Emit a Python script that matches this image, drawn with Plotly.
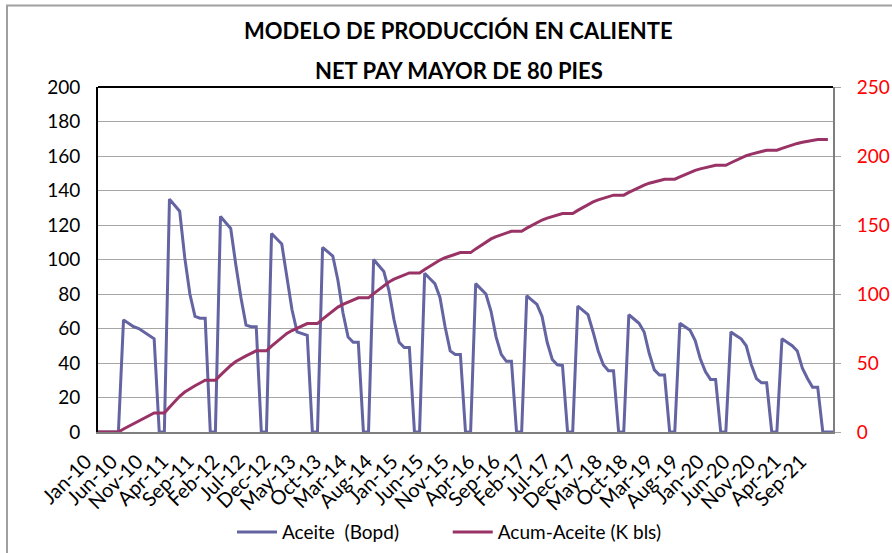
import pandas as pd
import plotly.graph_objects as go

# ---- data ----
months = [d.strftime("%b-%y") for d in pd.date_range("2010-01-01", periods=145, freq="MS")]
tick_labels = ["Jan-10", "Jun-10", "Nov-10", "Apr-11", "Sep-11", "Feb-12", "Jul-12", "Dec-12",
               "May-13", "Oct-13", "Mar-14", "Aug-14", "Jan-15", "Jun-15", "Nov-15", "Apr-16",
               "Sep-16", "Feb-17", "Jul-17", "Dec-17", "May-18", "Oct-18", "Mar-19", "Aug-19",
               "Jan-20", "Jun-20", "Nov-20", "Apr-21", "Sep-21"]

aceite_bopd = [
    0, 0, 0, 0, 0,
    65, 63, 61, 60, 58, 56, 54, 0, 0,
    135, 131.5, 128, 101, 80, 67, 66, 66, 0, 0,
    125, 121.5, 118, 97, 78, 62, 61, 61, 0, 0,
    115, 112, 109, 90, 71, 58, 57, 56, 0, 0,
    107, 104.5, 102, 88, 69, 55, 52, 52, 0, 0,
    100, 96.5, 93, 82, 65, 52, 49, 49, 0, 0,
    92, 89, 86, 78, 61, 47, 45, 45, 0, 0,
    86, 83, 80, 70, 55, 45, 41, 41, 0, 0,
    79, 76.5, 74, 67, 52, 42, 39, 38.5, 0, 0,
    73, 70.5, 68, 58, 47, 39, 35.5, 35.5, 0, 0,
    68, 65.5, 63, 58, 45.5, 36, 33, 33, 0, 0,
    63, 61, 59, 53, 42.5, 35, 30.5, 30.5, 0, 0,
    58, 56, 54, 50, 39, 31, 28.5, 28.5, 0, 0,
    54, 52, 50, 47, 37, 31, 26, 26, 0, 0,
    0,
]

acum_kbls = [
    0, 0, 0, 0, 0,
    2.2, 4.2, 6.3, 8.2, 10.2, 12.0, 13.8, 13.8, 13.8,
    17.9, 22.0, 25.9, 29.0, 31.4, 33.5, 35.5, 37.5, 37.5, 37.5,
    41.2, 44.8, 48.2, 51.1, 53.4, 55.2, 57.0, 58.8, 58.8, 58.8,
    62.2, 65.5, 68.8, 71.4, 73.5, 75.3, 76.9, 78.6, 78.6, 78.6,
    81.8, 84.9, 87.9, 90.5, 92.5, 94.1, 95.7, 97.2, 97.2, 97.2,
    100.3, 103.3, 106.1, 108.7, 110.7, 112.3, 113.8, 115.3, 115.3, 115.3,
    117.8, 120.2, 122.5, 124.6, 126.3, 127.6, 128.8, 130.0, 130.0, 130.0,
    132.7, 135.2, 137.7, 139.9, 141.6, 143.0, 144.2, 145.5, 145.5, 145.5,
    147.7, 149.8, 151.8, 153.6, 155.0, 156.2, 157.3, 158.3, 158.3, 158.3,
    160.6, 162.8, 164.9, 166.7, 168.2, 169.4, 170.5, 171.6, 171.6, 171.6,
    173.6, 175.5, 177.3, 178.9, 180.3, 181.3, 182.3, 183.2, 183.2, 183.2,
    184.9, 186.5, 188.1, 189.6, 190.7, 191.7, 192.5, 193.3, 193.3, 193.3,
    195.1, 196.9, 198.6, 200.2, 201.4, 202.4, 203.3, 204.2, 204.2, 204.2,
    205.5, 206.8, 208.0, 209.1, 210.0, 210.7, 211.4, 212.0, 212.0, 212.0,
]

series_names = ["Aceite  (Bopd)", "Acum-Aceite (K bls)"]
title_line1 = "MODELO DE PRODUCCIÓN EN CALIENTE"
title_line2 = "NET PAY MAYOR DE 80 PIES"

FONT = "Lato, 'Open Sans', sans-serif"
PAD = "\u00a0" * 9  # spacing between legend entries


def nb(s):
    return s.replace(" ", "\u00a0")


fig = go.Figure()
fig.add_trace(go.Scatter(
    x=months[:len(aceite_bopd)], y=aceite_bopd, mode="lines", name=nb(series_names[0]) + PAD,
    line=dict(color="#6464A2", width=3), yaxis="y",
))
fig.add_trace(go.Scatter(
    x=months[:len(acum_kbls)], y=acum_kbls, mode="lines", name=series_names[1],
    line=dict(color="#993366", width=3), yaxis="y2",
))

fig.update_layout(
    width=892, height=553,
    margin=dict(l=98, r=59, t=87, b=121, autoexpand=False),
    paper_bgcolor="white", plot_bgcolor="white",
    font=dict(family=FONT, color="black"),
    showlegend=True,
    legend=dict(orientation="h", x=(232 - 98) / 735, xanchor="left", y=-0.29, yanchor="middle",
                font=dict(size=19, family=FONT), itemwidth=40,
                traceorder="normal", bgcolor="rgba(0,0,0,0)"),
    xaxis=dict(
        type="category", categoryorder="array", categoryarray=months,
        range=[0, len(months) - 1], automargin=False,
        tickmode="array", tickvals=tick_labels, ticktext=tick_labels,
        tickangle=-45, tickfont=dict(size=20, family=FONT),
        ticklabelstandoff=8, ticklabelshift=-12,
        showgrid=False, showline=True, linecolor="#7F7F7F", linewidth=2,
        ticks="", zeroline=False,
    ),
    yaxis=dict(
        range=[0, 200], dtick=20, tick0=0, automargin=False,
        tickfont=dict(size=19, family=FONT), ticklabelstandoff=12,
        showgrid=True, gridcolor="#A6A6A6", gridwidth=1,
        showline=True, linecolor="black", linewidth=2, ticks="", zeroline=False,
    ),
    yaxis2=dict(
        range=[0, 250], dtick=50, tick0=0, overlaying="y", side="right", automargin=False,
        tickfont=dict(size=19, family=FONT, color="#FF0000"), ticklabelstandoff=12,
        showgrid=False, showline=True, linecolor="#7F7F7F", linewidth=2,
        ticks="outside", ticklen=6, tickcolor="#A6A6A6", zeroline=False,
    ),
    shapes=[
        dict(type="line", xref="paper", yref="paper", x0=0, x1=1, y0=1, y1=1,
             line=dict(color="black", width=2)),
        dict(type="rect", xref="paper", yref="paper",
             x0=(7 - 98) / 735, x1=(900 - 98) / 735,
             y0=(432 - 570) / 345, y1=(432 - 5.5) / 345,
             line=dict(color="#A0A0A0", width=2), layer="below"),
    ],
    annotations=[
        dict(text="<b>%s</b>" % title_line1, xref="paper", yref="paper",
             x=(458 - 98) / 735, y=(432 - 31) / 345, xanchor="center", yanchor="middle",
             showarrow=False, font=dict(size=22, family=FONT, color="black")),
        dict(text="<b>%s</b>" % title_line2, xref="paper", yref="paper",
             x=(459 - 98) / 735, y=(432 - 71) / 345, xanchor="center", yanchor="middle",
             showarrow=False, font=dict(size=22, family=FONT, color="black")),
    ],
)

fig.write_html("out.html", config={"displayModeBar": False},
               post_script="document.body.style.margin='0';document.body.style.overflow='hidden';")
